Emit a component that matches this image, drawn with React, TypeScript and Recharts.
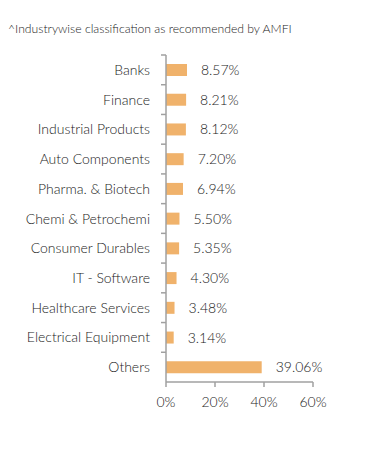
import { BarChart, Bar, XAxis, YAxis, LabelList } from "recharts";

const sektoren = [
  "Banks",
  "Finance",
  "Industrial Products",
  "Auto Components",
  "Pharma. & Biotech",
  "Chemi & Petrochemi",
  "Consumer Durables",
  "IT - Software",
  "Healthcare Services",
  "Electrical Equipment",
  "Others",
];
const anteile = [8.57, 8.21, 8.12, 7.2, 6.94, 5.5, 5.35, 4.3, 3.48, 3.14, 39.06];
const xTicks = [0, 20, 40, 60];

const daten = sektoren.map((name, i) => ({ name, wert: anteile[i] }));

const FONT = "Lato, 'Noto Sans', sans-serif";
const TEXT = "#1a1a1a";
const ACHSE = "#a0a0a0";
const BALKEN = "#f0b26b";

// Bandhöhe pro Kategorie (Plotbereich 55..382)
const BAND = (382 - 55) / sektoren.length;

function SektorTick(props: any) {
  const { x, y, payload } = props;
  return (
    <g>
      {/* Teilstrich an der Bandgrenze oberhalb der Kategorie */}
      <line
        x1={x + 3}
        x2={x + 8}
        y1={y - BAND / 2}
        y2={y - BAND / 2}
        stroke={ACHSE}
        strokeWidth={1.5}
      />
      <text
        x={x - 8}
        y={y}
        dy={5}
        textAnchor="end"
        fill={TEXT}
        fontSize={14}
        fontWeight={300}
        fontFamily={FONT}
      >
        {payload.value}
      </text>
    </g>
  );
}

export default function App() {
  return (
    <div style={{ position: "absolute", left: 0, top: 0, width: 391, height: 450, background: "#fff" }}>
      <div
        style={{
          position: "absolute",
          left: 8,
          top: 21,
          fontFamily: FONT,
          fontSize: 12.2,
          fontWeight: 300,
          color: "#222",
        }}
      >
        ^Industrywise classification as recommended by AMFI
      </div>
      <BarChart
        width={391}
        height={450}
        data={daten}
        layout="vertical"
        margin={{ top: 55, right: 78, bottom: 38, left: 0 }}
        barSize={12}
      >
        <XAxis
          type="number"
          domain={[0, 60]}
          ticks={xTicks}
          tickFormatter={(v) => `${v}%`}
          stroke={ACHSE}
          strokeWidth={1.5}
          tick={{ fill: TEXT, fontSize: 14, fontWeight: 300, fontFamily: FONT, dy: 8 }}
          tickSize={5}
          height={30}
        />
        <YAxis
          type="category"
          dataKey="name"
          width={166}
          stroke={ACHSE}
          strokeWidth={1.5}
          tickLine={false}
          tick={<SektorTick />}
          interval={0}
        />
        <Bar dataKey="wert" fill={BALKEN} isAnimationActive={false}>
          <LabelList
            dataKey="wert"
            position="right"
            offset={14}
            formatter={(v: any) => `${Number(v).toFixed(2)}%`}
            style={{ fill: TEXT, fontSize: 14, fontWeight: 300, fontFamily: FONT }}
          />
        </Bar>
      </BarChart>
    </div>
  );
}
